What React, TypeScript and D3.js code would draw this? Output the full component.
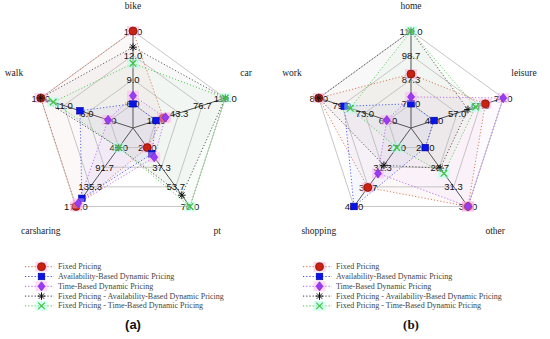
import React from 'react';
import * as d3 from 'd3';

const seriesNames = [
  'Fixed Pricing',
  'Availability-Based Dynamic Pricing',
  'Time-Based Dynamic Pricing',
  'Fixed Pricing - Availability-Based Dynamic Pricing',
  'Fixed Pricing - Time-Based Dynamic Pricing',
];

// Chart (a)
const axesA = ['bike', 'car', 'pt', 'carsharing', 'walk'];
const ticksA = [
  [6.0, 9.0, 12.0, 15.0],
  [10.0, 43.3, 76.7, 110.0],
  [21.0, 37.3, 53.7, 70.0],
  [48.0, 91.7, 135.3, 179.0],
  [1.0, 6.0, 11.0, 16.0],
];
const fixedA = [15, 20.6, 21, 179, 16];
const availA = [6, 10, 26.2, 161, 7.5];
const timeA = [7, 23.6, 29, 172, 1.4];
const fixAvailA = [13, 110, 60.6, 48, 16];
const fixTimeA = [11, 110, 70, 48, 13.3];

// Chart (b)
const axesB = ['home', 'leisure', 'other', 'shopping', 'work'];
const ticksB = [
  [76.0, 87.3, 98.7, 110.0],
  [47.0, 57.0, 67.0, 77.0],
  [26.0, 28.7, 31.3, 34.0],
  [27.0, 31.3, 35.7, 40.0],
  [67.0, 73.0, 79.0, 85.0],
];
const fixedB = [89.9, 69.2, 34, 35.8, 85];
const availB = [76, 47, 26, 40, 78.4];
const timeB = [79.2, 77, 34, 32.7, 67.3];
const fixAvailB = [110, 61.7, 28.8, 30.9, 85];
const fixTimeB = [110, 65, 29.5, 27, 76.8];

const colors = ['#cc2010', '#0a14e6', '#9a3cf5', '#111111', '#3cc43c'];
const lineColors = ['#d0603a', '#3040e0', '#b050f0', '#333333', '#40c040'];
const bgColors = ['#ff9fd6', null, '#ffaaf5', null, '#a8ffe6'];
const shapes = ['circle', 'square', 'diamond', 'star', 'x'];

const W = 550;
const H = 339;
const R = 97;
const CY = 128;

function Marker({ shape, x, y, i, bg = true }: any) {
  const c = colors[i];
  const b = bgColors[i];
  const back = bg && b ? (
    <rect x={x - 6} y={y - 5} width={12} height={10} fill={b} opacity={0.45} />
  ) : null;
  let m: any = null;
  if (shape === 'circle') {
    m = <circle cx={x} cy={y} r={4} fill={c} stroke="#7a1808" strokeWidth={0.8} />;
  } else if (shape === 'square') {
    m = <rect x={x - 3.3} y={y - 3.3} width={6.6} height={6.6} fill={c} stroke="#0000a0" strokeWidth={0.6} />;
  } else if (shape === 'diamond') {
    m = (
      <path
        d={`M${x},${y - 4.6}L${x + 3.5},${y}L${x},${y + 4.6}L${x - 3.5},${y}Z`}
        fill={c}
        stroke="#7020c0"
        strokeWidth={0.6}
      />
    );
  } else if (shape === 'star') {
    const s = 3.8;
    const angs = d3.range(4).map((k) => (k * Math.PI) / 4);
    m = (
      <g stroke={c} strokeWidth={1}>
        {angs.map((a, k) => (
          <line key={k} x1={x - s * Math.cos(a)} y1={y - s * Math.sin(a)} x2={x + s * Math.cos(a)} y2={y + s * Math.sin(a)} />
        ))}
      </g>
    );
  } else {
    const s = 3.3;
    m = (
      <g stroke={c} strokeWidth={1.2}>
        <line x1={x - s} y1={y - s} x2={x + s} y2={y + s} />
        <line x1={x - s} y1={y + s} x2={x + s} y2={y - s} />
      </g>
    );
  }
  return (
    <g>
      {back}
      {m}
    </g>
  );
}

function Radar({ cx, axes, ticks, series, captionFont, caption }: any) {
  const n = axes.length;
  const angle = (k: number) => (k * 2 * Math.PI) / n;
  const dir = (k: number) => [Math.sin(angle(k)), -Math.cos(angle(k))];
  const scales = ticks.map((t: number[]) => d3.scaleLinear().domain([t[0], t[t.length - 1]]).range([R / 4, R]));
  const pt = (k: number, r: number) => [cx + dir(k)[0] * r, CY + dir(k)[1] * r];
  const lineGen = d3.line<number[]>().x((d) => d[0]).y((d) => d[1]).curve(d3.curveLinearClosed);
  const ringRadii = [1, 2, 3, 4].map((q) => (q * R) / 4);

  const seriesPts = series.map((vals: number[]) => vals.map((v, k) => pt(k, scales[k](v))));

  const labelPos = (k: number) => {
    const [dx, dy] = dir(k);
    if (dy < -0.9) return [cx, CY - 122];
    if (dy < 0) return [cx + dx * 122 - 3, CY - 55];
    return [cx + dx * 150 - 4, CY + 103];
  };

  return (
    <g>
      {seriesPts.map((p: number[][], i: number) => (
        <path key={'f' + i} d={lineGen(p) || ''} fill={colors[i]} fillOpacity={0.03} stroke="none" />
      ))}
      {ringRadii.map((r, q) => (
        <path
          key={'r' + q}
          d={lineGen(d3.range(n).map((k) => pt(k, r))) || ''}
          fill="none"
          stroke="#b8b8b8"
          strokeWidth={0.8}
        />
      ))}
      {d3.range(n).map((k) => {
        const [x2, y2] = pt(k, R);
        return <line key={'a' + k} x1={cx} y1={CY} x2={x2} y2={y2} stroke="#555" strokeWidth={1} />;
      })}
      {seriesPts.map((p: number[][], i: number) => (
        <path
          key={'l' + i}
          d={lineGen(p) || ''}
          fill="none"
          stroke={lineColors[i]}
          strokeWidth={1}
          strokeDasharray="1.2,2"
          opacity={0.8}
        />
      ))}
      {ticks.map((t: number[], k: number) =>
        t.map((v, q) => {
          const [x, y] = pt(k, scales[k](v));
          return (
            <text
              key={'t' + k + '-' + q}
              x={x}
              y={y}
              textAnchor="middle"
              dominantBaseline="central"
              fontFamily="Liberation Sans, Arial, sans-serif"
              fontSize={9.5}
              fill="#111"
            >
              {v.toFixed(1)}
            </text>
          );
        })
      )}
      {seriesPts.map((p: number[][], i: number) =>
        p.map((d, k) => <Marker key={'m' + i + '-' + k} shape={shapes[i]} x={d[0]} y={d[1]} i={i} />)
      )}
      {axes.map((a: string, k: number) => {
        const [x, y] = labelPos(k);
        return (
          <text
            key={'al' + k}
            x={x}
            y={y}
            textAnchor="middle"
            dominantBaseline="central"
            fontFamily="Liberation Serif, Times New Roman, serif"
            fontSize={9.5}
            fill="#222"
          >
            {a}
          </text>
        );
      })}
      {seriesNames.map((name, i) => {
        const y = 266.7 + i * 9.8;
        const lx = cx - 108;
        return (
          <g key={'lg' + i}>
            <line x1={lx} y1={y} x2={lx + 29} y2={y} stroke={lineColors[i]} strokeWidth={1} strokeDasharray="1.2,2" />
            <Marker shape={shapes[i]} x={lx + 16.5} y={y} i={i} />
            <text
              x={lx + 33}
              y={y}
              dominantBaseline="central"
              fontFamily="Liberation Serif, Times New Roman, serif"
              fontSize={8}
              fill="#444"
            >
              {name}
            </text>
          </g>
        );
      })}
      <text
        x={cx}
        y={324}
        textAnchor="middle"
        dominantBaseline="central"
        fontFamily={captionFont}
        fontWeight="bold"
        fontSize={13}
        fill="#111"
      >
        {caption}
      </text>
    </g>
  );
}

export default function App() {
  return (
    <svg
      width={W}
      height={H}
      viewBox={`0 0 ${W} ${H}`}
      style={{ position: 'absolute', left: 0, top: 0, background: '#fff' }}
    >
      <rect width={W} height={H} fill="#fff" />
      <Radar
        cx={133}
        axes={axesA}
        ticks={ticksA}
        series={[fixedA, availA, timeA, fixAvailA, fixTimeA]}
        captionFont="Liberation Sans, Arial, sans-serif"
        caption="(a)"
      />
      <Radar
        cx={411}
        axes={axesB}
        ticks={ticksB}
        series={[fixedB, availB, timeB, fixAvailB, fixTimeB]}
        captionFont="Liberation Serif, Times New Roman, serif"
        caption="(b)"
      />
    </svg>
  );
}
